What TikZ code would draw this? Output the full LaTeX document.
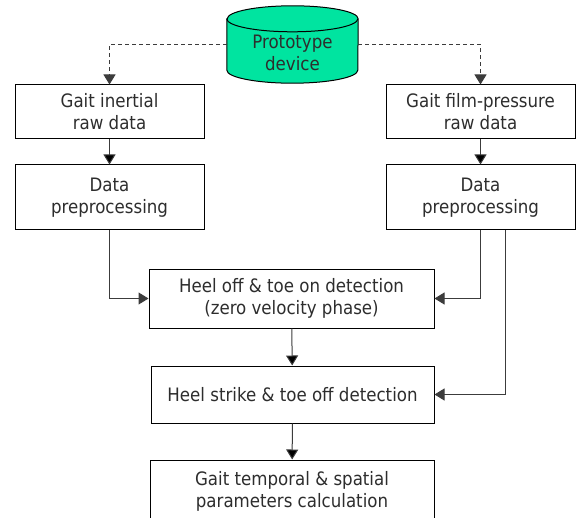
\documentclass[tikz,border=0pt]{standalone}
\usepackage{fontspec}
\setmainfont{DejaVu Sans Condensed}
\usetikzlibrary{arrows.meta}
\definecolor{devgreen}{RGB}{0,228,160}
\definecolor{txtgray}{RGB}{45,45,45}
\definecolor{lngray}{RGB}{60,60,60}

\begin{document}
\begin{tikzpicture}[x=1pt,y=-1pt,
  every node/.style={font=\fontsize{18.5}{22}\selectfont,text=txtgray,align=center},
  box/.style={draw,line width=1pt},
  devbox/.style={inner sep=0pt,minimum width=131pt,minimum height=77pt},
  devcap/.style={x radius=65.5pt,y radius=13pt},
  link/.style={draw=lngray,line width=1pt,-{Triangle[length=10pt,width=12pt]}},
  dlink/.style={link,dash pattern=on 4pt off 3pt}]

\useasboundingbox (0,0) rectangle (577,518);

\node[devbox] (dev) at (292.5,44.5) {};
\draw[line width=1pt,fill=devgreen] ([yshift=-13pt]dev.north west) -- ([yshift=13pt]dev.south west)
  arc[start angle=180,end angle=360,devcap] -- ([yshift=-13pt]dev.north east)
  arc[start angle=0,end angle=180,devcap] -- cycle;
\draw[line width=1pt] ([yshift=-13pt]dev.north west) arc[start angle=180,end angle=360,devcap];
\node (devlbl) at ([yshift=-8pt]dev.center) {Prototype\\device};

\node[box,minimum width=189pt,minimum height=54pt] (raw1) at (109.5,112) {Gait inertial\\raw data};
\node[box,minimum width=189pt,minimum height=54pt] (raw2) at (480.5,112) {Gait film-pressure\\raw data};
\node[box,minimum width=189pt,minimum height=65pt] (pre1) at (109.5,197.5) {Data\\preprocessing};
\node[box,minimum width=189pt,minimum height=65pt] (pre2) at (480.5,197.5) {Data\\preprocessing};
\node[box,minimum width=285pt,minimum height=59pt] (hoff) at (291.5,298.5) {Heel off \& toe on detection\\(zero velocity phase)};
\node[box,minimum width=283pt,minimum height=57pt] (hstr) at (292.5,394.5) {Heel strike \& toe off detection};
\node[box,minimum width=284pt,minimum height=62pt] (calc) at (292,491) {Gait temporal \& spatial\\parameters calculation};

\path[dlink] (dev.west) -| (raw1.north);
\path[dlink] (dev.east) -| (raw2.north);
\path[link] (raw1) edge (pre1) (raw2) edge (pre2) (hoff) edge (hstr) (hstr) edge (calc);
\path[link] (pre1.south) |- (hoff.west);
\path[link] (pre2.south) |- (hoff.east);
\path[link] ([xshift=24.5pt]pre2.south) |- (hstr.east);

\end{tikzpicture}
\end{document}
